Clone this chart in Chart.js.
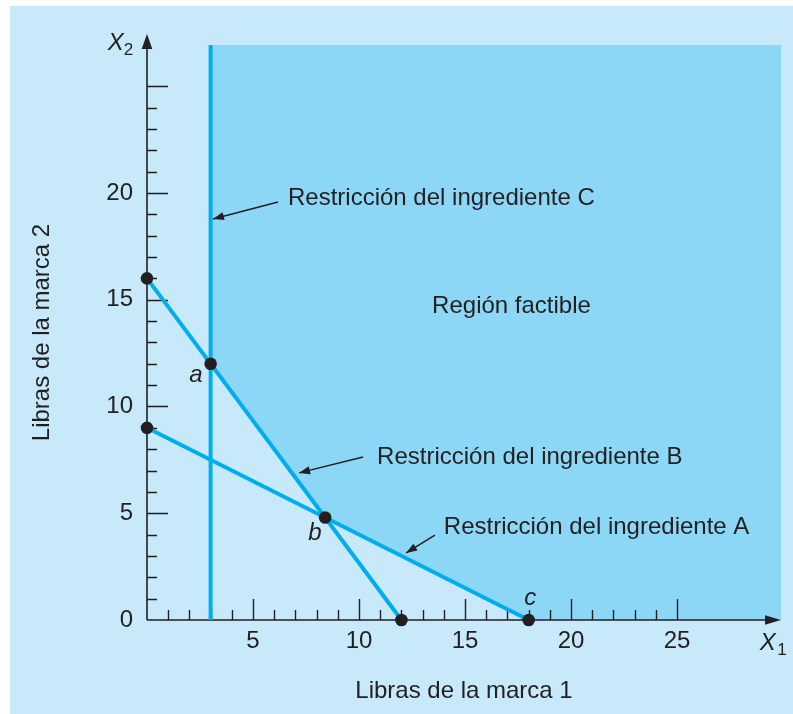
<!DOCTYPE html>
<html>
<head>
<meta charset="utf-8">
<script src="https://cdn.jsdelivr.net/npm/chart.js@4.4.0/dist/chart.umd.min.js"></script>
<style>
  html, body { margin: 0; padding: 0; background: #fff; }
  canvas { display: block; }
</style>
</head>
<body>
<canvas id="lp" width="793" height="714"></canvas>
<script>
// tick labels shown on each axis
const xTickLabels = [5, 10, 15, 20, 25];
const yTickLabels = [0, 5, 10, 15, 20];
const xMax = 29.9;
const yMax = 26.93;

// constraint lines (end points)
const lineA = [{x: 0, y: 9}, {x: 18, y: 0}];
const lineB = [{x: 0, y: 16}, {x: 12, y: 0}];
const lineC = [{x: 3, y: 0}, {x: 3, y: 26.93}];

// lower edge of the feasible region
const feasibleEdge = [{x: 3, y: 12}, {x: 8.4, y: 4.8}, {x: 18, y: 0}, {x: 29.9, y: 0}];

// corner / intercept points
const cornerPoints = [
    {x: 0, y: 16}, {x: 0, y: 9}, {x: 3, y: 12},
    {x: 8.4, y: 4.8}, {x: 12, y: 0}, {x: 18, y: 0}
];

const ink = '#231f20';
const cyan = '#00aeef';
const fam = '"Liberation Sans", Arial, Helvetica, sans-serif';

// annotation texts, placed in data units
const notes = [
    {text: 'Restricción del ingrediente C', x: 6.65, y: 19.77, from: [6.18, 19.58], to: [3.11, 18.78]},
    {text: 'Restricción del ingrediente B', x: 10.85, y: 7.63, from: [10.19, 7.63], to: [7.17, 6.89]},
    {text: 'Restricción del ingrediente A', x: 14.0, y: 4.36, from: [13.58, 3.98], to: [12.22, 3.14]}
];
const pointNames = [
    {text: 'a', x: 2.31, y: 11.48},
    {text: 'b', x: 7.92, y: 4.07},
    {text: 'c', x: 18.07, y: 1.03}
];

function arrowHead(ctx, x0, y0, x1, y1, len, half) {
    const a = Math.atan2(y1 - y0, x1 - x0);
    const c = Math.cos(a), s = Math.sin(a);
    ctx.beginPath();
    ctx.moveTo(x1, y1);
    ctx.lineTo(x1 - len * c + half * s, y1 - len * s - half * c);
    ctx.lineTo(x1 - len * c - half * s, y1 - len * s + half * c);
    ctx.closePath();
    ctx.fill();
}

const backdrop = {
    id: 'backdrop',
    beforeDraw(chart) {
        const ctx = chart.ctx;
        ctx.save();
        ctx.fillStyle = '#c7e9f9';
        ctx.fillRect(10, 6, chart.width, chart.height);
        ctx.restore();
    }
};

// axes with inside ticks and arrows, drawn right after the shaded region
const axes = {
    id: 'axes',
    afterDatasetDraw(chart, args) {
        if (args.index !== 0) return;
        const ctx = chart.ctx;
        const xs = chart.scales.x, ys = chart.scales.y;
        const x0 = xs.getPixelForValue(0), y0 = ys.getPixelForValue(0);
        const top = chart.chartArea.top, right = chart.chartArea.right;
        ctx.save();
        ctx.strokeStyle = ink;
        ctx.fillStyle = ink;
        ctx.lineWidth = 1.6;
        ctx.beginPath();
        ctx.moveTo(x0, y0);
        ctx.lineTo(x0, top + 2);
        ctx.moveTo(x0, y0);
        ctx.lineTo(right - 6, y0);
        ctx.stroke();
        arrowHead(ctx, x0, y0, x0, top - 11, 15, 5.3);
        arrowHead(ctx, x0, y0, right, y0, 16, 4.8);
        ctx.lineWidth = 1.4;
        ctx.beginPath();
        for (let v = 1; v <= 25; v++) {
            const len = v % 5 === 0 ? 21 : 10;
            const px = Math.round(xs.getPixelForValue(v)) + 0.5;
            ctx.moveTo(px, y0);
            ctx.lineTo(px, y0 - len);
            const py = Math.round(ys.getPixelForValue(v)) + 0.5;
            ctx.moveTo(x0, py);
            ctx.lineTo(x0 + len, py);
        }
        ctx.stroke();
        ctx.restore();
    }
};

const texts = {
    id: 'texts',
    afterDraw(chart) {
        const ctx = chart.ctx;
        const xs = chart.scales.x, ys = chart.scales.y;
        const px = v => xs.getPixelForValue(v);
        const py = v => ys.getPixelForValue(v);
        ctx.save();
        ctx.fillStyle = ink;
        ctx.strokeStyle = ink;
        ctx.textBaseline = 'middle';
        ctx.font = '24px ' + fam;
        ctx.textAlign = 'left';
        notes.forEach(n => {
            ctx.fillText(n.text, px(n.x), py(n.y));
            const fx = px(n.from[0]), fy = py(n.from[1]);
            const tx = px(n.to[0]), ty = py(n.to[1]);
            ctx.lineWidth = 1.5;
            ctx.beginPath();
            ctx.moveTo(fx, fy);
            ctx.lineTo(tx, ty);
            ctx.stroke();
            arrowHead(ctx, fx, fy, tx, ty, 11, 4);
        });
        ctx.textAlign = 'center';
        ctx.fillText('Región factible', px(17.19), py(14.71));

        ctx.font = 'italic 24px ' + fam;
        pointNames.forEach(p => ctx.fillText(p.text, px(p.x), py(p.y)));

        // axis symbols X1, X2
        ctx.textAlign = 'left';
        ctx.font = 'italic 24px ' + fam;
        ctx.fillText('X', px(28.9), py(-1.1));
        ctx.fillText('X', px(-1.85), py(27.0));
        ctx.font = '17px ' + fam;
        ctx.fillText('1', px(29.72), py(-1.4));
        ctx.fillText('2', px(-1.1), py(26.7));
        ctx.restore();
    }
};

new Chart(document.getElementById('lp'), {
    type: 'line',
    data: {
        datasets: [
            {
                data: feasibleEdge,
                borderWidth: 0,
                borderColor: 'rgba(0,0,0,0)',
                backgroundColor: '#8dd7f6',
                pointRadius: 0,
                fill: 'end',
                order: 4
            },
            {data: lineC, borderColor: cyan, borderWidth: 4, pointRadius: 0, fill: false, order: 3, clip: false},
            {data: lineB, borderColor: cyan, borderWidth: 4, pointRadius: 0, fill: false, order: 3, clip: false},
            {data: lineA, borderColor: cyan, borderWidth: 4, pointRadius: 0, fill: false, order: 3, clip: false},
            {
                data: cornerPoints,
                showLine: false,
                pointRadius: 6.3,
                pointBackgroundColor: ink,
                pointBorderWidth: 0,
                order: 1,
                clip: false
            }
        ]
    },
    options: {
        responsive: false,
        animation: false,
        events: [],
        layout: {padding: {top: 45, right: 12, left: 0, bottom: 0}},
        plugins: {legend: {display: false}, tooltip: {enabled: false}},
        scales: {
            x: {
                type: 'linear',
                min: 0,
                max: xMax,
                grid: {display: false, drawTicks: false},
                border: {display: false},
                afterBuildTicks: s => { s.ticks = xTickLabels.map(v => ({value: v})); },
                afterFit: s => { s.height = 94; },
                ticks: {
                    color: ink,
                    padding: 7,
                    maxRotation: 0,
                    autoSkip: false,
                    font: {family: fam, size: 24}
                },
                title: {
                    display: true,
                    text: 'Libras de la marca 1',
                    color: ink,
                    font: {family: fam, size: 24},
                    padding: {top: 0, bottom: 8}
                }
            },
            y: {
                type: 'linear',
                min: 0,
                max: yMax,
                grid: {display: false, drawTicks: false},
                border: {display: false},
                afterBuildTicks: s => { s.ticks = yTickLabels.map(v => ({value: v})); },
                afterFit: s => { s.width = 147; },
                ticks: {
                    color: ink,
                    padding: 14,
                    autoSkip: false,
                    font: {family: fam, size: 24}
                },
                title: {
                    display: true,
                    text: 'Libras de la marca 2',
                    color: ink,
                    font: {family: fam, size: 24},
                    padding: {top: 28, bottom: 0}
                }
            }
        }
    },
    plugins: [backdrop, axes, texts]
});
</script>
</body>
</html>
